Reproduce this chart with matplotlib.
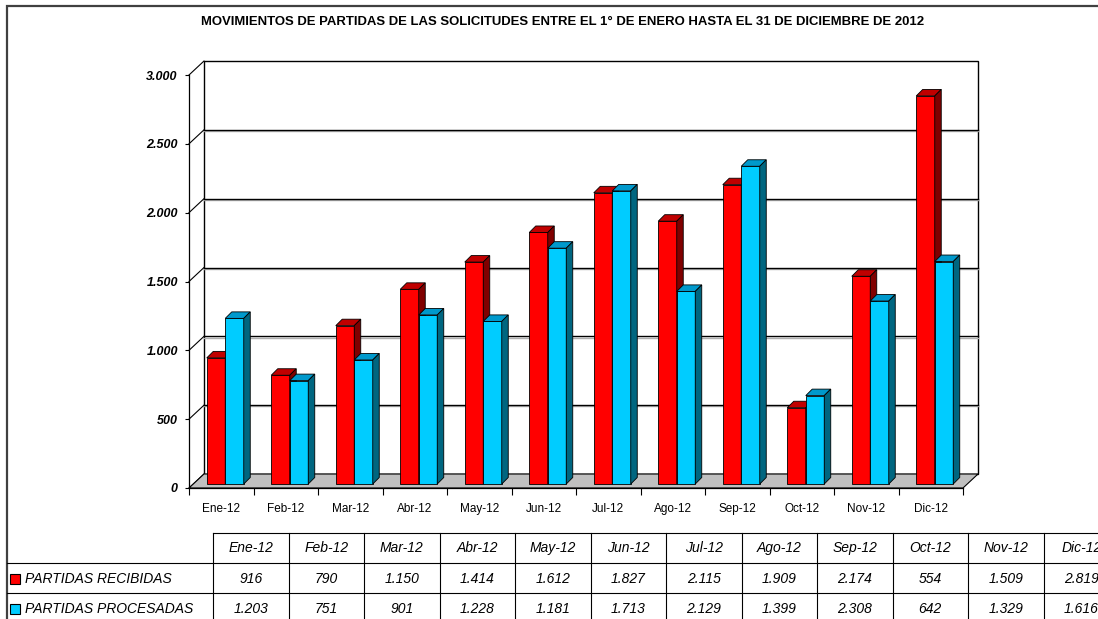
import numpy as np
import matplotlib
matplotlib.use('Agg')
import matplotlib.pyplot as plt
from matplotlib.patches import Polygon, Rectangle
from matplotlib import font_manager

# ---- data ----
meses = ['Ene-12', 'Feb-12', 'Mar-12', 'Abr-12', 'May-12', 'Jun-12',
         'Jul-12', 'Ago-12', 'Sep-12', 'Oct-12', 'Nov-12', 'Dic-12']
recibidas = [916, 790, 1150, 1414, 1612, 1827, 2115, 1909, 2174, 554, 1509, 2819]
procesadas = [1203, 751, 901, 1228, 1181, 1713, 2129, 1399, 2308, 642, 1329, 1616]
series = ['PARTIDAS RECIBIDAS', 'PARTIDAS PROCESADAS']
yticks = [0, 500, 1000, 1500, 2000, 2500, 3000]
titulo = ('MOVIMIENTOS DE PARTIDAS DE LAS SOLICITUDES ENTRE EL 1° DE ENERO '
          'HASTA EL 31 DE DICIEMBRE DE 2012')

# front / top / side colours per series
colores = [('#FF0000', '#C00000', '#800000'),
           ('#00CCFF', '#0099CC', '#006680')]

def fmt(v):
    return f'{v:,}'.replace(',', '.')

names = {f.name for f in font_manager.fontManager.ttflist}
narrow = 'Liberation Sans Narrow' if 'Liberation Sans Narrow' in names else 'Liberation Sans'
plt.rcParams['font.family'] = ['Liberation Sans', 'DejaVu Sans']

W, H = 1098, 619
fig = plt.figure(figsize=(W / 100, H / 100), dpi=100)

# overlay in pixel coords for border, title and data table
ov = fig.add_axes([0, 0, 1, 1])
ov.set_xlim(0, W)
ov.set_ylim(H, 0)
ov.axis('off')

# front plane of the 3d box (pixels)
x0, x1 = 189, 963
y0, y1 = 488, 75
ax = fig.add_axes([x0 / W, (H - y0) / H, (x1 - x0) / W, (y0 - y1) / H])
ax.set_xlim(-0.5, 11.5)
ax.set_ylim(0, 3000)
ax.patch.set_visible(False)

px_x = 12 / (x1 - x0)
px_y = 3000 / (y0 - y1)
wx, wy = 15 * px_x, 14 * px_y      # depth of box
bx, by = 4 * px_x, 4 * px_y        # bar front plane
dx, dy = 6.5 * px_x, 6.5 * px_y    # bar depth
bw = 18.5 * px_x

# back wall
ax.add_patch(Polygon([(-0.5 + wx, wy), (11.5 + wx, wy), (11.5 + wx, 3000 + wy),
                      (-0.5 + wx, 3000 + wy)], closed=True, fc='white',
                     ec='black', lw=1.0, zorder=1, clip_on=False))
for v in yticks[1:-1]:
    ax.plot([-0.5 + wx, 11.5 + wx], [v + wy - 1.3 * px_y] * 2, color='#B0B0B0',
            lw=1.0, zorder=1, clip_on=False)
    ax.plot([-0.5 + wx, 11.5 + wx], [v + wy] * 2, color='black', lw=1.0,
            zorder=1.1, clip_on=False)
# side wall diagonals
for v in yticks:
    ax.plot([-0.5, -0.5 + wx], [v, v + wy], color='black', lw=0.8,
            zorder=1.1, clip_on=False)
# floor
ax.add_patch(Polygon([(-0.5, 0), (11.5, 0), (11.5 + wx, wy), (-0.5 + wx, wy)],
                     closed=True, fc='#C0C0C0', ec='black', lw=0.8, zorder=2,
                     clip_on=False))

x = np.arange(len(meses))
for s, vals in enumerate([recibidas, procesadas]):
    front, top, side = colores[s]
    xl = x - bw + bx + s * bw
    z = 3 + s
    ax.bar(xl, vals, width=bw, bottom=by, align='edge', color=front,
           edgecolor='black', lw=0.6, zorder=z)
    for xi, v in zip(xl, vals):
        t = v + by
        ax.add_patch(Polygon([(xi, t), (xi + bw, t), (xi + bw + dx, t + dy),
                              (xi + dx, t + dy)], closed=True, fc=top,
                             ec='black', lw=0.6, zorder=z + 0.5, clip_on=False))
        ax.add_patch(Polygon([(xi + bw, by), (xi + bw + dx, by + dy),
                              (xi + bw + dx, t + dy), (xi + bw, t)], closed=True,
                             fc=side, ec='black', lw=0.6, zorder=z + 0.5,
                             clip_on=False))

for sp in ['top', 'right']:
    ax.spines[sp].set_visible(False)
for sp in ['left', 'bottom']:
    ax.spines[sp].set_linewidth(0.9)
    ax.spines[sp].set_zorder(6)

ax.set_yticks(yticks)
ax.set_yticklabels([fmt(v) for v in yticks], fontweight='bold', style='italic',
                   fontsize=9)
ax.tick_params(axis='y', length=3, width=0.8, pad=5)
ax.set_xticks(np.arange(-0.5, 12, 1))
ax.set_xticklabels([])
ax.tick_params(axis='x', which='major', length=5, width=0.8)
ax.set_xticks(x, minor=True)
ax.set_xticklabels(meses, minor=True, fontsize=8.5, family=[narrow, 'DejaVu Sans'])
ax.tick_params(axis='x', which='minor', length=0, pad=11)

# outer border
ov.plot([7, 7, W], [H, 6, 6], color='#404040', lw=1.6, solid_joinstyle='miter')

# title, scaled to the width seen in the reference
tt = ov.text(563, 22, titulo, ha='center', va='center', fontweight='bold',
             fontsize=9, family=[narrow, 'DejaVu Sans'])
r = fig.canvas.get_renderer()
wpx = tt.get_window_extent(r).width
tt.set_fontsize(9 * 728 / wpx)

# data table
tx0, tcw = 213, 75.5
for k in range(13):
    ov.plot([tx0 + k * tcw] * 2, [533, 625], color='black', lw=0.8)
ov.plot([tx0, W], [533, 533], color='black', lw=0.8)
ov.plot([7, W], [563, 563], color='black', lw=0.8)
ov.plot([7, W], [593, 593], color='black', lw=0.8)
for k, m in enumerate(meses):
    ov.text(tx0 + (k + 0.5) * tcw, 548, m, ha='center', va='center',
            style='italic', fontsize=10)
for s, vals in enumerate([recibidas, procesadas]):
    yc = 578 + 30 * s
    ov.add_patch(Rectangle((10, yc - 4), 10, 10, fc=colores[s][0], ec='black',
                           lw=0.8))
    ov.text(25, yc + 1, series[s], ha='left', va='center', style='italic',
            fontsize=10)
    for k, v in enumerate(vals):
        ov.text(tx0 + (k + 0.5) * tcw, yc + 1, fmt(v), ha='center',
                va='center', style='italic', fontsize=10)

fig.savefig('out.png', dpi=100)
